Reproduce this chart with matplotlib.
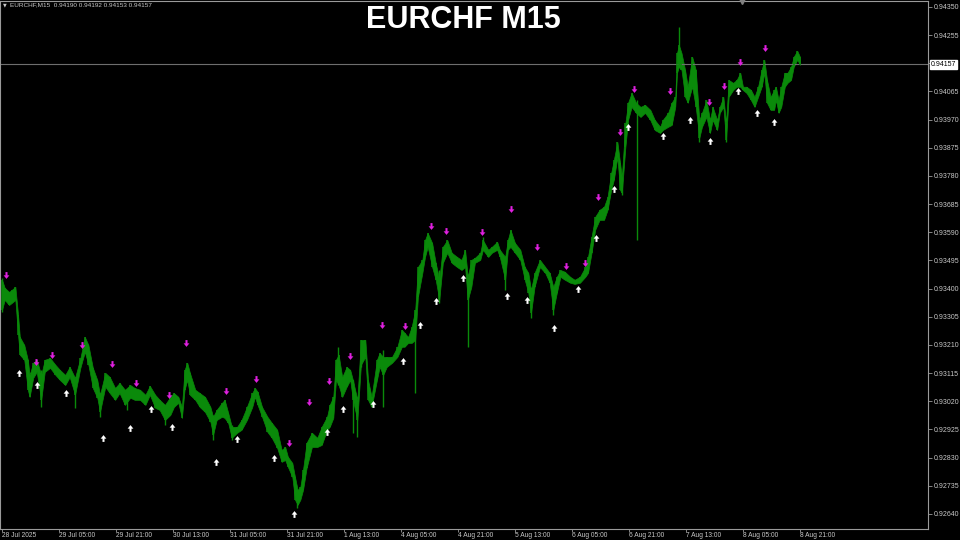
"""
EURCHF M15 chart in the MetaTrader look: dense green bars on black,
magenta sell arrows above swing highs, white buy arrows below swing lows.
"""

import matplotlib
matplotlib.use('Agg')
import matplotlib.pyplot as plt
import matplotlib.transforms as mtransforms
from matplotlib.path import Path
import numpy as np

# === DATA (prices in points, 1 point = 0.00001) ===
SYMBOL = 'EURCHF'
TIMEFRAME = 'M15'
LAST_OHLC = [0.94190, 0.94192, 0.94153, 0.94157]

bar_idx = [
    0, 3, 8, 11, 15, 18, 20, 25, 29, 31,
    35, 39, 44, 48, 54, 60, 65, 71, 76, 82,
    88, 93, 97, 102, 107, 110, 116, 121, 127, 132,
    138, 144, 149, 155, 161, 166, 172, 177, 183, 189,
    193, 198, 202, 205, 208, 211, 217, 222, 228, 234,
    237, 241, 247, 250, 254, 258, 264, 269, 275, 281,
    284, 287, 292, 298, 303, 309, 314, 318, 321, 326,
    329, 332, 335, 338, 342, 348, 354, 359, 365, 368,
    372, 375, 378, 382, 387, 391, 394, 399, 403, 408,
    411, 415, 421, 424, 428, 432, 438, 444, 449, 452,
    456, 460, 464, 467, 472, 475, 478, 483, 487, 491,
    495, 500, 505, 511, 516, 520, 523, 527, 531, 537,
    540, 546, 550, 556, 559, 565, 568, 571, 576, 582,
    587, 591, 594, 598, 604, 610, 615, 619, 623, 627,
    632, 638, 643, 649, 655, 658, 662, 666, 671, 676,
    680, 684, 687, 691, 694, 696, 700, 703, 707, 712,
    717, 722, 728, 733, 739, 742, 748, 752, 756, 758,
    760, 763, 767, 770, 775, 779, 783, 786, 791, 795,
    798, 803, 806, 810, 813, 816, 821, 825, 829, 832,
    836, 841, 845, 849, 853, 856, 859, 863, 867, 869,
    872, 875, 879, 882, 886, 889, 893, 896,
]
bar_high = [
    93430, 93403, 93389, 93396, 93406, 93312, 93237, 93210, 93160, 93109,
    93150, 93160, 93109, 93160, 93166, 93143, 93126, 93109, 93136, 93099,
    93166, 93237, 93210, 93133, 93092, 93042, 93116, 93102, 93065, 93082,
    93059, 93075, 93065, 93059, 93042, 93072, 93042, 93025, 93008, 93035,
    93048, 93035, 93001, 93126, 93150, 93116, 93059, 93048, 93035, 93001,
    92968, 92991, 93015, 93025, 92981, 92934, 92934, 92957, 93001, 93048,
    93065, 93052, 93001, 92968, 92947, 92924, 92856, 92866, 92833, 92812,
    92765, 92721, 92731, 92789, 92880, 92914, 92897, 92934, 92968, 93008,
    93035, 93160, 93177, 93102, 93136, 93126, 93092, 93025, 93227, 93227,
    93092, 93035, 93160, 93183, 93170, 93170, 93170, 93204, 93261, 93251,
    93237, 93271, 93328, 93473, 93497, 93564, 93588, 93554, 93487, 93430,
    93541, 93564, 93521, 93507, 93497, 93531, 93440, 93497, 93504, 93521,
    93564, 93531, 93541, 93558, 93531, 93507, 93564, 93598, 93554, 93531,
    93473, 93453, 93396, 93453, 93497, 93473, 93453, 93406, 93440, 93463,
    93457, 93440, 93430, 93440, 93473, 93507, 93575, 93642, 93666, 93676,
    93710, 93790, 93834, 93895, 93824, 93777, 93959, 94027, 94060, 94027,
    94013, 94020, 94003, 93969, 93946, 93969, 93993, 94027, 94047, 94195,
    94222, 94195, 94138, 94081, 94182, 94138, 93969, 93993, 94036, 93969,
    94013, 93969, 94013, 94047, 93959, 94104, 94094, 94104, 94128, 94081,
    94081, 94070, 94047, 94081, 94138, 94172, 94104, 94047, 94070, 94081,
    94036, 94081, 94128, 94128, 94148, 94182, 94202, 94182,
]
bar_low = [
    93328, 93362, 93345, 93352, 93362, 93244, 93177, 93160, 93059, 93035,
    93099, 93119, 93025, 93119, 93133, 93109, 93092, 93075, 93102, 93042,
    93133, 93187, 93143, 93065, 93032, 92984, 93069, 93048, 93025, 93048,
    93008, 93032, 93025, 93025, 93008, 93042, 92998, 92991, 92957, 92974,
    93001, 93015, 92964, 93059, 93092, 93042, 93025, 93001, 92984, 92951,
    92907, 92957, 92968, 92964, 92947, 92897, 92914, 92924, 92957, 93001,
    93035, 93008, 92968, 92917, 92897, 92863, 92816, 92822, 92799, 92765,
    92688, 92671, 92688, 92721, 92795, 92866, 92866, 92873, 92924, 92934,
    92964, 93092, 93075, 93035, 93069, 93092, 93025, 92957, 93143, 93170,
    93025, 93001, 93092, 93136, 93109, 93136, 93150, 93170, 93204, 93204,
    93217, 93217, 93227, 93372, 93453, 93507, 93541, 93473, 93430, 93362,
    93487, 93521, 93487, 93473, 93463, 93473, 93362, 93406, 93487, 93497,
    93531, 93507, 93521, 93531, 93507, 93430, 93531, 93541, 93521, 93497,
    93430, 93386, 93318, 93406, 93473, 93453, 93420, 93328, 93386, 93440,
    93430, 93420, 93416, 93420, 93440, 93453, 93521, 93598, 93632, 93632,
    93666, 93733, 93767, 93844, 93733, 93723, 93878, 93969, 94013, 93993,
    93979, 93993, 93969, 93935, 93925, 93935, 93946, 93952, 94013, 94128,
    94148, 94138, 94047, 94027, 94081, 94013, 93909, 93946, 93979, 93925,
    93969, 93935, 93993, 94013, 93902, 94047, 94070, 94081, 94081, 94070,
    94060, 94036, 94013, 94047, 94081, 94128, 94027, 94003, 94003, 94036,
    93993, 94013, 94081, 94094, 94104, 94148, 94172, 94155,
]

# long wicks
spike_idx = [0, 44, 82, 110, 140, 183, 237, 258, 331, 377, 394, 399, 403,
             428, 464, 491, 523, 540, 565, 594, 619, 696, 713, 760, 783, 813]
spike_high = [93436, 93126, 93092, 93042, 93059, 93008, 92974, 92941, 92721,
              93204, 93092, 93025, 93227, 93193, 93328, 93463, 93440, 93575,
              93507, 93396, 93406, 93777, 94036, 94283, 93969, 93959]
spike_low = [93321, 93001, 92998, 92968, 92991, 92941, 92890, 92890, 92661,
             93075, 92914, 92900, 93136, 93001, 93048, 93352, 93204, 93531,
             93396, 93301, 93312, 93716, 93564, 94148, 93895, 93895]

# signal arrows
sell_idx = [4, 38, 56, 90, 124, 150, 188, 207, 252, 285, 322, 345, 367, 391,
            427, 452, 482, 499, 539, 571, 601, 633, 655, 669, 694, 710, 750,
            794, 811, 829, 857]
sell_price = [93446, 93153, 93177, 93210, 93146, 93082, 93042, 93217, 93055,
              93096, 92880, 93018, 93089, 93173, 93278, 93274, 93612, 93595,
              93591, 93669, 93541, 93477, 93487, 93710, 93929, 94074, 94067,
              94030, 94084, 94165, 94212]
buy_idx = [19, 39, 72, 113, 144, 167, 191, 240, 264, 305, 328, 365, 383, 417,
           450, 469, 487, 518, 567, 589, 620, 647, 667, 687, 703, 742, 772,
           795, 826, 848, 867]
buy_price = [93116, 93075, 93048, 92897, 92930, 92994, 92934, 92816, 92893,
             92829, 92640, 92917, 92994, 93011, 93156, 93278, 93359, 93436,
             93376, 93362, 93268, 93399, 93571, 93736, 93946, 93915, 93969,
             93898, 94067, 93993, 93962]

price_ticks = [0.94350, 0.94255, 0.94160, 0.94065, 0.93970, 0.93875, 0.93780,
               0.93685, 0.93590, 0.93495, 0.93400, 0.93305, 0.93210, 0.93115,
               0.93020, 0.92925, 0.92830, 0.92735, 0.92640]
price_tick_labels = ['0.94350', '0.94255', '', '0.94065', '0.93970', '0.93875',
                     '0.93780', '0.93685', '0.93590', '0.93495', '0.93400',
                     '0.93305', '0.93210', '0.93115', '0.93020', '0.92925',
                     '0.92830', '0.92735', '0.92640']

time_ticks = [0, 64, 128, 192, 256, 320, 384, 448, 512, 576, 640, 704, 768, 832, 896]
time_labels = ['28 Jul 2025', '29 Jul 05:00', '29 Jul 21:00', '30 Jul 13:00',
               '31 Jul 05:00', '31 Jul 21:00', '1 Aug 13:00', '4 Aug 05:00',
               '4 Aug 21:00', '5 Aug 13:00', '6 Aug 05:00', '6 Aug 21:00',
               '7 Aug 13:00', '8 Aug 05:00', '8 Aug 21:00']

# === STYLE ===
BG = 'black'
GREEN = '#0a8a0a'
SELL = '#e020e0'
BUY = 'white'
FRAME = '#9a9a9a'
AXIS_TEXT = '#c8c8c8'
FONT_AXIS = 5.0

plt.rcParams['font.family'] = ['Liberation Sans', 'DejaVu Sans']


def _arrow_marker(down=True):
    """Thick MT-style arrow as a marker path."""
    verts = [(-0.3, 1.0), (0.3, 1.0), (0.3, 0.05), (0.85, 0.05),
             (0.0, -1.0), (-0.85, 0.05), (-0.3, 0.05), (-0.3, 1.0)]
    if not down:
        verts = [(x, -y) for x, y in verts]
    codes = [Path.MOVETO] + [Path.LINETO] * 6 + [Path.CLOSEPOLY]
    return Path(verts, codes)


fig = plt.figure(figsize=(9.6, 5.4), dpi=100, facecolor=BG)
ax = fig.add_axes([0.0, 11 / 540, 928 / 960, 528 / 540])
ax.set_facecolor(BG)

pts = 1e5
hi = np.array(bar_high) / pts
lo = np.array(bar_low) / pts

ax.fill_between(bar_idx, lo, hi, color=GREEN, linewidth=0.5)
ax.vlines(bar_idx, lo, hi, color=GREEN, linewidth=1.1)
ax.vlines(spike_idx, np.array(spike_low) / pts, np.array(spike_high) / pts,
          color=GREEN, linewidth=1.0)

ax.scatter(sell_idx, np.array(sell_price) / pts, marker=_arrow_marker(True),
           s=24, color=SELL, linewidths=0, zorder=4)
ax.scatter(buy_idx, np.array(buy_price) / pts, marker=_arrow_marker(False),
           s=24, color=BUY, linewidths=0, zorder=4)

# current price line + label
last = LAST_OHLC[3]
ax.axhline(last, color='#6e6e6e', linewidth=0.8, zorder=1)
trans = mtransforms.blended_transform_factory(ax.transAxes, ax.transData)
ax.text(1.003, last, f'{last:.5f}', transform=trans, ha='left', va='center',
        fontsize=FONT_AXIS, color='black', clip_on=False,
        bbox=dict(boxstyle='square,pad=0.15', facecolor='white', edgecolor='white'))

# chart shift marker at the top
trans_top = mtransforms.blended_transform_factory(ax.transData, ax.transAxes)
ax.plot([831], [1.0], marker='v', ms=4, color='#808080', transform=trans_top,
        clip_on=False, zorder=5)

ax.set_xlim(-2.25, 1039.8)
ax.set_ylim(0.925894, 0.943702)

ax.yaxis.tick_right()
ax.set_yticks(price_ticks)
ax.set_yticklabels(price_tick_labels)
ax.set_xticks(time_ticks)
ax.set_xticklabels(time_labels, ha='left')
ax.tick_params(axis='both', colors=FRAME, labelcolor=AXIS_TEXT,
               labelsize=FONT_AXIS, length=3, width=0.6, pad=1)
ax.tick_params(axis='x', length=2, pad=0.3, labelsize=4.8)
for spine in ax.spines.values():
    spine.set_color(FRAME)
    spine.set_linewidth(0.8)
ax.grid(False)

fig.text(463 / 960, 1 - 20 / 540, f'{SYMBOL} {TIMEFRAME}', ha='center', va='center',
         color='white', fontsize=22, fontweight='bold')
header = f'{SYMBOL},{TIMEFRAME}  ' + ' '.join(f'{v:.5f}' for v in LAST_OHLC)
fig.text(10 / 960, 1 - 5 / 540, header, ha='left', va='center',
         color=AXIS_TEXT, fontsize=4.6)
fig.text(3 / 960, 1 - 5 / 540, '▼', ha='left', va='center', color=AXIS_TEXT,
         fontsize=3.5, family='DejaVu Sans')

fig.savefig('out.png', dpi=100, facecolor=BG)
plt.close(fig)
